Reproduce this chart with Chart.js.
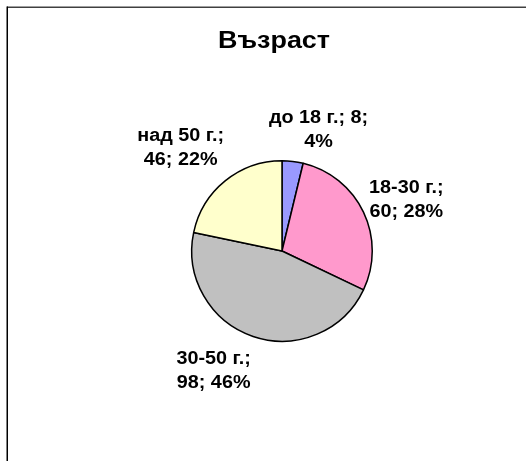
<!DOCTYPE html>
<html>
<head>
<meta charset="utf-8">
<script src="https://cdn.jsdelivr.net/npm/chart.js@4.4.1/dist/chart.umd.min.js"></script>
<style>
  html, body { margin: 0; padding: 0; background: #fff; }
  #wrap { position: relative; width: 526px; height: 461px; }
  canvas { display: block; }
</style>
</head>
<body>
<div id="wrap"><canvas id="c" width="526" height="461"></canvas></div>
<script>
const chartTitle = 'Възраст';
const categories = ['до 18 г.', '18-30 г.', '30-50 г.', 'над 50 г.'];
const values = [8, 60, 98, 46];
const percentLabels = ['4%', '28%', '46%', '22%'];
const colors = ['#9999FF', '#FF99CC', '#C0C0C0', '#FFFFCC'];

// label text lines (Excel style: "category; value; percent")
const labelLines = [
  [categories[0] + '; ' + values[0] + ';', percentLabels[0]],
  [categories[1] + ';', values[1] + '; ' + percentLabels[1]],
  [categories[2] + ';', values[2] + '; ' + percentLabels[2]],
  [categories[3] + ';', values[3] + '; ' + percentLabels[3]]
];
// label placement style: angular nudge (deg) and radial factor
const labelAngleNudge = [10, 3, 11, -5.5];
const labelRadial = [1.40, 1.49, 1.53, 1.60];

const FONT = '"Liberation Sans", Arial, sans-serif';

function stretchedText(ctx, text, x, y, sx) {
  ctx.save();
  ctx.translate(x, y);
  ctx.scale(sx, 1);
  ctx.fillText(text, 0, 0);
  ctx.restore();
}

const framePlugin = {
  id: 'frame',
  beforeDraw(chart) {
    const ctx = chart.ctx;
    ctx.save();
    ctx.fillStyle = '#fff';
    ctx.fillRect(0, 0, chart.width, chart.height);
    ctx.strokeStyle = '#404040';
    ctx.lineWidth = 1.5;
    ctx.beginPath();
    ctx.moveTo(7, 7.25); ctx.lineTo(chart.width, 7.25);
    ctx.stroke();
    ctx.strokeStyle = '#000';
    ctx.lineWidth = 1.5;
    ctx.beginPath();
    ctx.moveTo(7.25, 6.5); ctx.lineTo(7.25, chart.height);
    ctx.stroke();
    ctx.restore();
  },
  afterDraw(chart) {
    const ctx = chart.ctx;
    ctx.save();
    ctx.fillStyle = '#000';
    ctx.textAlign = 'center';
    ctx.textBaseline = 'middle';
    ctx.font = 'bold 23px ' + FONT;
    const meta = chart.getDatasetMeta(0);
    const cx0 = meta.data[0].x;
    stretchedText(ctx, chartTitle, cx0 - 8, 42, 1.17);

    ctx.font = 'bold 18px ' + FONT;
    meta.data.forEach((arc, i) => {
      const mid = (arc.startAngle + arc.endAngle) / 2 + labelAngleNudge[i] * Math.PI / 180;
      const r = arc.outerRadius * labelRadial[i];
      const x = arc.x + Math.cos(mid) * r;
      const y = arc.y + Math.sin(mid) * r;
      const lines = labelLines[i];
      const lh = 24;
      lines.forEach((t, k) => {
        stretchedText(ctx, t, x, y + (k - (lines.length - 1) / 2) * lh, 1.1);
      });
    });
    ctx.restore();
  }
};

new Chart(document.getElementById('c'), {
  type: 'pie',
  data: {
    labels: categories,
    datasets: [{
      data: values,
      backgroundColor: colors,
      borderColor: '#000',
      borderWidth: 1.5,
      hoverOffset: 0
    }]
  },
  options: {
    responsive: false,
    animation: false,
    devicePixelRatio: 1,
    layout: { padding: { left: 100, right: 62, top: 160, bottom: 119 } },
    plugins: {
      legend: { display: false },
      title: { display: false },
      tooltip: { enabled: false }
    },
    events: []
  },
  plugins: [framePlugin]
});
</script>
</body>
</html>
